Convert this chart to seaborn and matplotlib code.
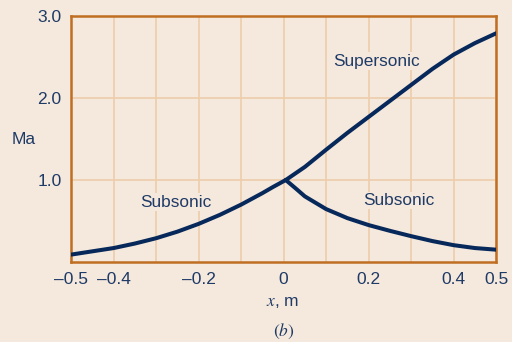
import numpy as np
import pandas as pd
import seaborn as sns
from matplotlib import pyplot as plt

# Mach number along nozzle
x_in = [-0.5, -0.45, -0.4, -0.35, -0.3, -0.25, -0.2, -0.15, -0.1, -0.05, -0.025, 0.005]
ma_in = [0.09, 0.13, 0.17, 0.225, 0.29, 0.37, 0.465, 0.575, 0.70, 0.84, 0.915, 1.0]
x_super = [0.005, 0.05, 0.1, 0.15, 0.2, 0.25, 0.3, 0.35, 0.4, 0.45, 0.5]
ma_super = [1.0, 1.16, 1.37, 1.575, 1.77, 1.965, 2.16, 2.355, 2.53, 2.67, 2.79]
x_sub = [0.005, 0.03, 0.05, 0.1, 0.15, 0.2, 0.25, 0.3, 0.35, 0.4, 0.45, 0.5]
ma_sub = [1.0, 0.89, 0.80, 0.645, 0.535, 0.45, 0.38, 0.315, 0.255, 0.205, 0.17, 0.15]

x_ticks = [-0.5, -0.4, -0.2, 0, 0.2, 0.4, 0.5]
x_tick_labels = ['\u20130.5', '\u20130.4', '\u20130.2', '0', '0.2', '0.4', '0.5']
y_ticks = [1.0, 2.0, 3.0]
y_tick_labels = ['1.0', '2.0', '3.0']

bg = '#F5E8DC'
frame = '#BF6E22'
gridc = '#EDCDAB'
navy = '#06285A'
textc = '#1E3A66'

sns.set_style('white')
plt.rcParams['font.family'] = ['Liberation Sans', 'DejaVu Sans']
plt.rcParams['mathtext.fontset'] = 'stix'

fig = plt.figure(figsize=(5.12, 3.42), dpi=100, facecolor=bg)
ax = fig.add_axes([0.139, 0.234, 0.830, 0.719])
ax.set_facecolor(bg)

df_in = pd.DataFrame({'x': x_in, 'Ma': ma_in})
df_sup = pd.DataFrame({'x': x_super, 'Ma': ma_super})
df_sub = pd.DataFrame({'x': x_sub, 'Ma': ma_sub})
for d in (df_in, df_sup, df_sub):
    line = sns.lineplot(data=d, x='x', y='Ma', ax=ax, color=navy, linewidth=2.9, zorder=3)
for ln in ax.lines:
    ln.set_solid_joinstyle('round')

ax.set_xlim(-0.5, 0.5)
ax.set_ylim(0, 3.0)
ax.set_xticks(np.arange(-0.5, 0.51, 0.1), minor=True)
ax.set_xticks(x_ticks)
ax.set_xticklabels(x_tick_labels)
ax.set_yticks(y_ticks)
ax.set_yticklabels(y_tick_labels)
ax.grid(False)
ax.grid(True, which='both', axis='x', color=gridc, linewidth=1.2, zorder=0)
ax.grid(True, which='major', axis='y', color=gridc, linewidth=1.2, zorder=0)
ax.tick_params(which='both', length=0, labelsize=12.5, labelcolor=textc)
ax.tick_params(axis='x', pad=7)
ax.tick_params(axis='y', pad=7)
for s in ax.spines.values():
    s.set_color(frame)
    s.set_linewidth(1.8)
    s.set_visible(True)

ax.set_xlabel('')
ax.set_ylabel('')
fig.text(0.046, 0.591, 'Ma', fontsize=12.5, color=textc, ha='center', va='center')
fig.text(0.551, 0.115, r'$x$, m', fontsize=12.5, color=textc, ha='center', va='center')
fig.text(0.555, 0.032, r'$(b)$', fontsize=12.5, color=textc, ha='center', va='center')

box = dict(facecolor=bg, edgecolor='none', pad=1)
ax.text(0.218, 2.45, 'Supersonic', fontsize=12.4, color=textc, ha='center', va='center', bbox=box, zorder=2)
ax.text(-0.254, 0.73, 'Subsonic', fontsize=12.4, color=textc, ha='center', va='center', bbox=box, zorder=2)
ax.text(0.271, 0.75, 'Subsonic', fontsize=12.4, color=textc, ha='center', va='center', bbox=box, zorder=2)

fig.savefig('out.png', dpi=100, facecolor=bg)
